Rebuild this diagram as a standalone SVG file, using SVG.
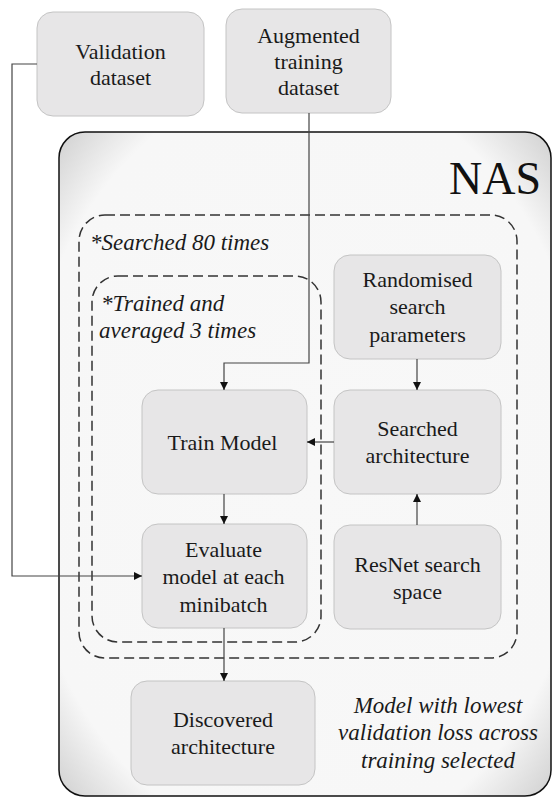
<svg xmlns="http://www.w3.org/2000/svg" width="553" height="798" viewBox="0 0 553 798">
<defs>
<radialGradient id="nasFill" cx="0.5" cy="0.5" r="0.71">
<stop offset="0" stop-color="#f8f8f8"/>
<stop offset="0.82" stop-color="#f7f7f7"/>
<stop offset="1" stop-color="#cfcfcf"/>
</radialGradient>
<marker id="arr" viewBox="0 0 10 10" refX="10" refY="5" markerWidth="8" markerHeight="8" markerUnits="userSpaceOnUse" orient="auto">
<path d="M0,0 L10,5 L0,10 Z" fill="#111"/>
</marker>
</defs>
<style>
.box{fill:#e7e6e7;stroke:#c4c4c4;stroke-width:1}
.dash{fill:none;stroke:#333;stroke-width:1.5;stroke-dasharray:10 5}
.conn{fill:none;stroke:#444;stroke-width:1.2;marker-end:url(#arr)}
</style>
<rect width="553" height="798" fill="#ffffff"/>
<g id="nas">
<rect x="59" y="132" width="492" height="664" rx="26" fill="url(#nasFill)" stroke="#111" stroke-width="1.5"/>
<text x="541" y="194" font-family="Liberation Serif, serif" font-size="46" fill="#111" text-anchor="end">NAS</text>
</g>
<g font-family="Liberation Serif, serif" font-size="23" font-style="italic" fill="#1a1a1a">
<g id="search-loop">
<rect class="dash" x="79" y="215" width="438" height="443" rx="26"/>
<text x="90" y="250">*Searched 80 times</text>
</g>
<g id="train-loop">
<rect class="dash" x="92" y="276" width="229" height="366" rx="26"/>
<text x="101" y="311">*Trained and</text>
<text x="99" y="338">averaged 3 times</text>
</g>
<g id="note" text-anchor="middle">
<text x="438" y="713">Model with lowest</text>
<text x="438" y="740">validation loss across</text>
<text x="438" y="768">training selected</text>
</g>
</g>
<g font-family="Liberation Serif, serif" font-size="22" fill="#1a1a1a" text-anchor="middle">
<g id="validation">
<rect class="box" x="37" y="12" width="167" height="104" rx="16"/>
<text x="120.5" y="59">Validation</text>
<text x="120.5" y="85">dataset</text>
</g>
<g id="augmented">
<rect class="box" x="226" y="9" width="165" height="104" rx="16"/>
<text x="308.5" y="43">Augmented</text>
<text x="308.5" y="69">training</text>
<text x="308.5" y="95">dataset</text>
</g>
<g id="randomised">
<rect class="box" x="334" y="255" width="167" height="104" rx="16"/>
<text x="417.5" y="287">Randomised</text>
<text x="417.5" y="314">search</text>
<text x="417.5" y="342">parameters</text>
</g>
<g id="searched">
<rect class="box" x="334" y="390" width="167" height="104" rx="16"/>
<text x="417.5" y="436">Searched</text>
<text x="417.5" y="463">architecture</text>
</g>
<g id="resnet">
<rect class="box" x="334" y="525" width="167" height="104" rx="16"/>
<text x="417.5" y="572">ResNet search</text>
<text x="417.5" y="599">space</text>
</g>
<g id="train">
<rect class="box" x="142" y="390" width="165" height="104" rx="16"/>
<text x="222.5" y="450">Train Model</text>
</g>
<g id="evaluate">
<rect class="box" x="142" y="524" width="165" height="104" rx="16"/>
<text x="223.5" y="557">Evaluate</text>
<text x="223.5" y="584">model at each</text>
<text x="223.5" y="612">minibatch</text>
</g>
<g id="discovered">
<rect class="box" x="131" y="681" width="184" height="104" rx="16"/>
<text x="223" y="727">Discovered</text>
<text x="223" y="754">architecture</text>
</g>
</g>
<g id="connectors">
<path class="conn" d="M37,64 H12 V576 H142"/>
<path class="conn" d="M309,113 V363 H224 V390"/>
<path class="conn" d="M417,359 V390"/>
<path class="conn" d="M417,525 V494"/>
<path class="conn" d="M334,442 H307"/>
<path class="conn" d="M224,494 V524"/>
<path class="conn" d="M224,628 V681"/>
</g>
</svg>
